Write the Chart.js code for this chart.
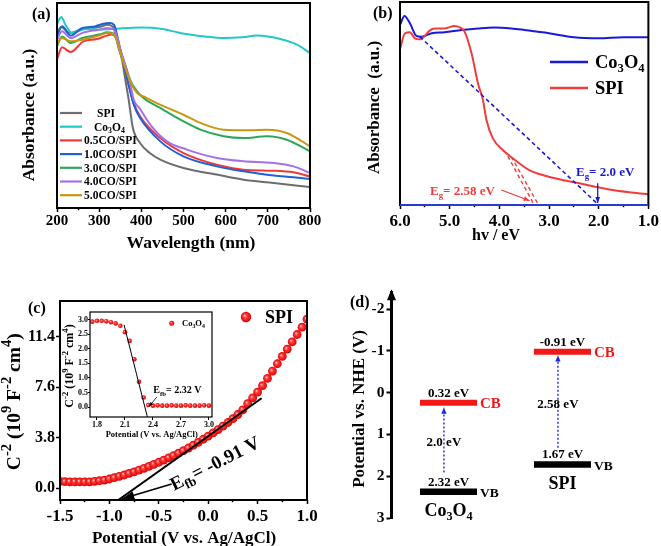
<!DOCTYPE html>
<html><head><meta charset="utf-8">
<script src="https://cdn.jsdelivr.net/npm/chart.js@4.4.1/dist/chart.umd.min.js"></script>
<style>
html,body{margin:0;padding:0;background:#fff;}
body{width:661px;height:546px;overflow:hidden;position:relative;}
canvas{position:absolute;}
</style></head><body>
<canvas id="ca" width="330" height="270" style="left:0;top:0"></canvas>
<canvas id="cb" width="331" height="270" style="left:330px;top:0"></canvas>
<canvas id="cc" width="330" height="266" style="left:0;top:280px"></canvas>
<canvas id="ci" width="180" height="145" style="left:40px;top:300px"></canvas>
<canvas id="cd" width="331" height="266" style="left:330px;top:280px"></canvas>
<script>
// ---------------- DATA ----------------
// (a) UV-vis absorbance (a.u., 0-100) vs wavelength (nm)
const seriesNames = ['SPI', 'Co3O4', '0.5CO/SPI', '1.0CO/SPI', '3.0CO/SPI', '4.0CO/SPI', '5.0CO/SPI'];
const wlSPI = [200,210,230,260,300,320,333,345,354,362,370,380,397,420,445,500,579,642,714,800];
const absSPI = [85.4,88.3,85.4,87.3,88.3,89.4,88.3,78.9,72.4,62.6,52.8,39.0,31.7,26.8,23.6,19.5,16.3,13.8,12.2,10.2];
const wlCo = [200,205,210,220,235,250,270,300,330,350,400,450,492,550,595,640,674,700,730,769,800];
const absCo = [89.4,91.9,93.2,89.4,85.4,86.2,87.3,87.0,87.3,87.6,88.0,87.3,85.4,83.7,82.9,83.3,84.1,83.7,82.4,79.7,75.6];
const wl05 = [200,212,232,263,295,318,330,340,350,365,382,397,445,500,579,642,714,761,800];
const abs05 = [72.4,78.4,76.1,81.3,82.4,84.1,84.6,82.9,77.2,64.2,51.2,44.7,34.1,26.8,21.1,18.7,18.2,17.4,15.4];
const wl10 = [200,212,232,260,290,310,325,335,350,365,382,397,445,500,579,642,714,761,800];
const abs10 = [83.7,88.6,84.1,87.8,88.6,89.9,90.2,89.4,77.2,64.2,50.4,43.9,32.5,25.2,20.3,17.9,15.8,15.0,14.1];
const wl30 = [200,212,232,260,300,320,335,355,375,390,405,445,500,540,595,642,698,745,800];
const abs30 = [78.9,83.7,80.5,82.9,84.6,85.7,85.0,74.0,61.8,56.9,53.7,48.8,42.3,38.2,35.0,34.1,35.0,33.3,27.6];
const wl40 = [200,212,232,260,300,320,335,355,370,382,397,421,461,508,579,642,714,761,800];
const abs40 = [82.1,86.2,82.9,85.4,87.0,87.8,87.0,74.0,64.2,52.8,48.3,40.7,32.5,28.5,24.4,22.8,22.0,20.3,17.1];
const wl50 = [200,212,232,260,300,320,335,355,375,390,410,450,500,540,595,658,698,745,800];
const abs50 = [80.5,82.9,81.3,82.1,84.1,85.4,84.6,72.4,61.0,56.1,54.0,49.9,45.5,41.5,38.2,37.9,38.2,36.6,30.1];

// (b) absorbance vs photon energy (eV)
const evCo = [6.0,5.91,5.8,5.67,5.57,5.36,5.1,4.76,4.43,4.1,3.76,3.49,3.0,2.5,2.0,1.5,1.0];
const absCoB = [88.7,93.1,89.5,83.3,82.9,84.6,85.1,86.2,87.0,87.5,87.0,86.2,84.6,82.6,82.1,82.6,82.6];
const evSPI = [6.0,5.9,5.8,5.7,5.6,5.5,5.43,5.3,5.1,4.9,4.76,4.7,4.56,4.43,4.33,4.26,4.13,3.93,3.73,3.4,3.06,2.39,1.72,1.0];
const absSPIB = [76.7,84.6,85.1,82.1,81.6,83.3,85.4,87.0,87.0,88.2,87.0,85.4,74.7,59.9,51.7,41.9,32.8,27.1,23.0,17.2,14.3,10.7,7.4,5.3];
const fitCoEv = [5.6, 2.0], fitCoAbs = [82.9, 0];
const fitSPIEv1 = [3.83, 3.31], fitSPIAbs1 = [24.1, 0.5];
const fitSPIEv2 = [3.76, 3.21], fitSPIAbs2 = [23.8, 0];
const egCoArrowEv = [2.02, 2.02], egCoArrowAbs = [10.7, 1.0];
const egSPIArrowEv = [3.96, 3.39], egSPIArrowAbs = [7.4, 2.1];

// (c) Mott-Schottky SPI
const potSPI = [-1.5,-1.45,-1.4,-1.35,-1.3,-1.25,-1.2,-1.15,-1.1,-1.05,-1.0,-0.95,-0.9,-0.85,-0.8,-0.75,-0.7,-0.65,-0.6,-0.55,-0.5,-0.45,-0.4,-0.35,-0.3,-0.25,-0.2,-0.15,-0.1,-0.05,0.0,0.05,0.1,0.15,0.2,0.25,0.3,0.35,0.4,0.45,0.5,0.55,0.6,0.65,0.7,0.75,0.8,0.85,0.9,0.95,1.0];
const c2SPI = [0.5,0.48,0.47,0.46,0.46,0.46,0.47,0.5,0.55,0.6,0.68,0.78,0.88,0.98,1.1,1.22,1.35,1.48,1.63,1.78,1.94,2.1,2.27,2.44,2.62,2.81,3.01,3.22,3.44,3.67,3.9,4.15,4.4,4.66,4.93,5.22,5.53,5.88,6.35,6.78,7.22,7.7,8.25,8.8,9.35,9.9,10.45,11.0,11.55,12.1,12.7];
const c2TickValues = [0.0, 3.8, 7.6, 11.4];
const fitSPIpot = [-0.91, 0.54], fitSPIc2 = [-0.9, 6.75];
const efbArrowPot = [-0.37, -0.87], efbArrowC2 = [0.3, -0.8];

// (c) inset Mott-Schottky Co3O4
const potCo = [1.75,1.8,1.85,1.9,1.95,2.0,2.05,2.1,2.15,2.2,2.25,2.3,2.35,2.4,2.45,2.5,2.55,2.6,2.65,2.7,2.75,2.8,2.85,2.9,2.95,3.0];
const c2Co = [2.93,2.96,2.96,2.94,2.91,2.87,2.79,2.57,2.27,1.64,0.87,0.33,0.07,0.05,0.06,0.05,0.05,0.06,0.05,0.05,0.06,0.05,0.05,0.05,0.06,0.05];
const insetPotTicks = [1.8, 2.1, 2.4, 2.7, 3.0];
const insetC2Ticks = [0.0, 0.5, 1.0, 1.5, 2.0, 2.5, 3.0];
const fitCoPot = [2.09, 2.34], fitCoC2 = [2.82, -0.34];
const efbCoArrowPot = [2.44, 2.36], efbCoArrowC2 = [0.34, 0.03];

// (d) band positions (V vs NHE)
const materials = ['Co3O4', 'SPI'];
const cbLevel = [0.24, -0.98];
const vbLevel = [2.37, 1.72];
const cbLabel = ['0.32 eV', '-0.91 eV'];
const vbLabel = ['2.32 eV', '1.67 eV'];
const gapLabel = ['2.0 eV', '2.58 eV'];
const gapFrom = [1.91, 1.32];
const gapTo = [0.36, -0.89];
const nheTicks = [-2, -1, 0, 1, 2, 3];

// ---------------- HELPERS ----------------
const FONT = "'Liberation Serif','Times New Roman',Times,serif";
Chart.defaults.font.family = FONT;
Chart.defaults.font.weight = 'bold';
Chart.defaults.color = '#000';
Chart.defaults.animation = false;
Chart.defaults.events = [];
Chart.defaults.plugins.legend.display = false;
Chart.defaults.plugins.tooltip.enabled = false;

const xy = (xs, ys) => xs.map((x, i) => ({x: x, y: ys[i]}));
const near = (v, m) => Math.abs(v / m - Math.round(v / m)) < 1e-6;
const chem = s => s === 'Co3O4' ? ['Co', ['3', 1], 'O', ['4', 1]] : [s];

function rich(ctx, parts, x, y, o) {
  const size = o.size, scr = o.scr || 0.68;
  ctx.save();
  ctx.translate(x, y);
  if (o.rot) ctx.rotate(o.rot);
  ctx.fillStyle = o.color || '#000';
  ctx.textBaseline = 'alphabetic';
  ctx.textAlign = 'left';
  const segs = parts.map(p => Array.isArray(p) ? {t: p[0], m: p[1]} : {t: p, m: 0});
  let w = 0;
  segs.forEach(s => { s.sz = s.m ? size * scr : size; ctx.font = 'bold ' + s.sz + 'px ' + FONT; s.w = ctx.measureText(s.t).width; w += s.w; });
  let cx = o.align === 'center' ? -w / 2 : (o.align === 'right' ? -w : 0);
  const base = o.baseline ? 0 : size * 0.34;
  segs.forEach(s => {
    ctx.font = 'bold ' + s.sz + 'px ' + FONT;
    const dy = s.m === 1 ? size * 0.22 : (s.m === 2 ? -size * 0.42 : 0);
    ctx.fillText(s.t, cx, base + dy);
    cx += s.w;
  });
  ctx.restore();
}
function hline(ctx, x1, y1, x2, y2, color, w) {
  ctx.save(); ctx.strokeStyle = color; ctx.lineWidth = w; ctx.beginPath(); ctx.moveTo(x1, y1); ctx.lineTo(x2, y2); ctx.stroke(); ctx.restore();
}
function ballGrad(ctx, px, py, r) {
  const g = ctx.createRadialGradient(px - r * 0.3, py - r * 0.3, 0, px, py, r);
  g.addColorStop(0, '#ffd8d8'); g.addColorStop(0.35, '#ff4040'); g.addColorStop(1, '#dd0000');
  return g;
}
function ballFill(r) {
  return c => {
    try {
      const ch = c.chart, p = c.raw;
      const px = ch.scales.x.getPixelForValue(p.x), py = ch.scales.y.getPixelForValue(p.y);
      return ballGrad(ch.ctx, px, py, r);
    } catch (e) { return '#ee1111'; }
  };
}
function drawBall(ctx, x, y, r) {
  ctx.save(); ctx.fillStyle = ballGrad(ctx, x, y, r); ctx.beginPath(); ctx.arc(x, y, r, 0, Math.PI * 2); ctx.fill(); ctx.restore();
}
function seg(xs, ys, color, width, extra) {
  return Object.assign({data: xy(xs, ys), borderColor: color, borderWidth: width, pointRadius: 0, tension: 0, fill: false}, extra || {});
}
const arrowPlugin = { id: 'arrowheads', afterDatasetsDraw(chart) {
  const ctx = chart.ctx;
  chart.data.datasets.forEach((ds, i) => {
    if (!ds.arrowSize) return;
    const pts = chart.getDatasetMeta(i).data;
    if (pts.length < 2) return;
    const a = pts[pts.length - 2], b = pts[pts.length - 1];
    const ang = Math.atan2(b.y - a.y, b.x - a.x);
    const L = ds.arrowSize, W = L * (ds.arrowWidth || 0.4);
    const bx = b.x - L * Math.cos(ang), by = b.y - L * Math.sin(ang);
    ctx.save(); ctx.fillStyle = ds.borderColor; ctx.beginPath();
    ctx.moveTo(b.x, b.y);
    ctx.lineTo(bx + W * Math.sin(ang), by - W * Math.cos(ang));
    ctx.lineTo(bx - W * Math.sin(ang), by + W * Math.cos(ang));
    ctx.closePath(); ctx.fill(); ctx.restore();
  });
}};
function framePlugin(lw, bottomColor) {
  return { id: 'frame', afterDatasetsDraw(chart) {
    const ctx = chart.ctx, a = chart.chartArea;
    ctx.save(); ctx.lineWidth = lw; ctx.strokeStyle = '#000';
    ctx.strokeRect(a.left, a.top, a.right - a.left, a.bottom - a.top);
    if (bottomColor) { ctx.strokeStyle = bottomColor; ctx.beginPath(); ctx.moveTo(a.left, a.bottom); ctx.lineTo(a.right, a.bottom); ctx.stroke(); }
    ctx.restore();
  }};
}
const textPlugin = fn => ({ id: 'texts', afterDraw(chart) { fn(chart.ctx, chart); } });
const minorDash = m => c => (c.tick && !near(c.tick.value, m)) ? [2.2, 30] : [];
const ROT = -Math.PI / 2;

// ---------------- (a) ----------------
const colorsA = ['#6d6d6d', '#22c8c8', '#f03a3a', '#1f60d6', '#2da65a', '#a472e6', '#c9960c'];
const xsA = [wlSPI, wlCo, wl05, wl10, wl30, wl40, wl50];
const ysA = [absSPI, absCo, abs05, abs10, abs30, abs40, abs50];
const legXA = [97, 94, 84, 84, 84, 84, 84];
new Chart(document.getElementById('ca'), {
  type: 'line',
  data: { datasets: seriesNames.map((n, i) => ({ label: n, data: xy(xsA[i], ysA[i]), borderColor: colorsA[i], borderWidth: 2, pointRadius: 0, cubicInterpolationMode: 'monotone', fill: false, order: seriesNames.length - i })) },
  options: {
    responsive: false,
    layout: { padding: { top: 3, right: 20, left: 0, bottom: 0 } },
    scales: {
      x: { type: 'linear', min: 200, max: 800, afterFit: s => { s.height = 62; },
        ticks: { stepSize: 50, autoSkip: false, maxRotation: 0, padding: 0, color: '#000', font: { size: 15, weight: 'bold' }, callback: v => near(v, 100) ? String(v) : '' },
        grid: { drawOnChartArea: false, tickLength: 4, tickWidth: 1.5, tickColor: '#000', tickBorderDash: minorDash(100) },
        border: { display: false } },
      y: { min: 0, max: 100, afterFit: s => { s.width = 57; }, ticks: { display: false }, grid: { display: false }, border: { display: false } }
    }
  },
  plugins: [framePlugin(2), textPlugin((ctx) => {
    rich(ctx, ['Wavelength (nm)'], 191, 242.5, { size: 17.5, align: 'center' });
    rich(ctx, ['Absorbance (a.u.)'], 28, 115, { size: 17.5, align: 'center', rot: ROT });
    rich(ctx, ['(a)'], 32, 14, { size: 16 });
    seriesNames.forEach((n, i) => {
      const y = 113 + i * 13.7;
      hline(ctx, 60, y, 82, y, colorsA[i], 2.2);
      rich(ctx, chem(n), legXA[i], y, { size: 11.5 });
    });
  })]
});

// ---------------- (b) ----------------
const blueB = '#1a1ad6', redB = '#f03c3c';
new Chart(document.getElementById('cb'), {
  type: 'line',
  data: { datasets: [
    seg(egCoArrowEv, egCoArrowAbs, blueB, 1.3, { arrowSize: 6, arrowWidth: 0.4 }),
    seg(egSPIArrowEv, egSPIArrowAbs, redB, 1.2, { arrowSize: 6, arrowWidth: 0.4 }),
    seg(fitCoEv, fitCoAbs, blueB, 1.6, { borderDash: [4, 3] }),
    seg(fitSPIEv1, fitSPIAbs1, redB, 1.4, { borderDash: [4, 3] }),
    seg(fitSPIEv2, fitSPIAbs2, redB, 1.4, { borderDash: [4, 3] }),
    { label: 'SPI', data: xy(evSPI, absSPIB), borderColor: redB, borderWidth: 2, pointRadius: 0, cubicInterpolationMode: 'monotone', fill: false },
    { label: 'Co3O4', data: xy(evCo, absCoB), borderColor: blueB, borderWidth: 2, pointRadius: 0, cubicInterpolationMode: 'monotone', fill: false }
  ] },
  options: {
    responsive: false,
    layout: { padding: { top: 2, right: 12, left: 0, bottom: 0 } },
    scales: {
      x: { type: 'linear', reverse: true, min: 1, max: 6, afterFit: s => { s.height = 65; },
        ticks: { stepSize: 0.5, autoSkip: false, maxRotation: 0, padding: 2, color: '#000', font: { size: 17, weight: 'bold' }, callback: v => near(v, 1) ? v.toFixed(1) : '' },
        grid: { drawOnChartArea: false, tickLength: 4, tickWidth: 1.5, tickColor: '#000', tickBorderDash: minorDash(1) },
        border: { display: false } },
      y: { min: 0, max: 100, afterFit: s => { s.width = 70; }, ticks: { display: false }, grid: { display: false }, border: { display: false } }
    }
  },
  plugins: [arrowPlugin, framePlugin(2, '#2a3ad0'), textPlugin((ctx) => {
    rich(ctx, ['hv / eV'], 166, 235, { size: 16, align: 'center' });
    rich(ctx, ['Absorbance  (a.u.)'], 43, 107.5, { size: 17, align: 'center', rot: ROT });
    rich(ctx, ['(b)'], 43, 13, { size: 16 });
    hline(ctx, 220, 62, 258, 62, blueB, 2.5);
    hline(ctx, 220, 88, 258, 88, redB, 2.5);
    rich(ctx, chem('Co3O4'), 265, 62, { size: 18.5 });
    rich(ctx, ['SPI'], 265, 88, { size: 18.5 });
    rich(ctx, ['E', ['g', 1], '= 2.0 eV'], 246, 172, { size: 13, color: blueB });
    rich(ctx, ['E', ['g', 1], '= 2.58 eV'], 100, 191, { size: 13, color: redB });
  })]
});

// ---------------- (c) ----------------
new Chart(document.getElementById('cc'), {
  type: 'line',
  data: { datasets: [
    seg(efbArrowPot, efbArrowC2, '#000', 1.5, { arrowSize: 12, arrowWidth: 0.35, order: 0 }),
    seg(fitSPIpot, fitSPIc2, '#000', 2, { order: 0 }),
    { label: 'SPI', data: xy(potSPI, c2SPI), showLine: false, pointRadius: 4.4, pointBorderWidth: 0, pointBorderColor: 'rgba(0,0,0,0)', pointBackgroundColor: ballFill(4.4), order: 2 }
  ] },
  options: {
    responsive: false,
    layout: { padding: { top: 21, right: 23, left: 0, bottom: 0 } },
    scales: {
      x: { type: 'linear', min: -1.5, max: 1.0, afterFit: s => { s.height = 46; },
        ticks: { stepSize: 0.25, autoSkip: false, maxRotation: 0, padding: 2.3, color: '#000', font: { size: 17, weight: 'bold' }, callback: v => near(v, 0.5) ? v.toFixed(1) : '' },
        grid: { drawOnChartArea: false, tickLength: 4, tickWidth: 1.5, tickColor: '#000', tickBorderDash: minorDash(0.5) },
        border: { display: false } },
      y: { min: -0.9, max: 14.07, afterFit: s => { s.width = 60; },
        afterBuildTicks: s => { s.ticks = c2TickValues.map(v => ({ value: v })); },
        ticks: { padding: 1, color: '#000', font: { size: 16, weight: 'bold' }, callback: v => v.toFixed(1) },
        grid: { drawOnChartArea: false, tickLength: 4, tickWidth: 1.5, tickColor: '#000' },
        border: { display: false } }
    }
  },
  plugins: [arrowPlugin, framePlugin(2), textPlugin((ctx) => {
    rich(ctx, ['Potential (V vs. Ag/AgCl)'], 184, 257, { size: 17, align: 'center' });
    rich(ctx, ['C', ['-2', 2], ' (10', ['9', 2], ' F', ['-2', 2], ' cm', ['4', 2], ')'], 13, 121.7, { size: 19.5, align: 'center', rot: ROT, scr: 0.75 });
    rich(ctx, ['(c)'], 28, 28, { size: 16 });
    drawBall(ctx, 246, 37, 5.2);
    rich(ctx, ['SPI'], 265, 37, { size: 18 });
    rich(ctx, ['E', ['fb', 1], '= -0.91 V'], 174, 211, { size: 19, rot: -27 * Math.PI / 180, baseline: true });
  })]
});

// ---------------- (c) inset ----------------
new Chart(document.getElementById('ci'), {
  type: 'line',
  data: { datasets: [
    seg(efbCoArrowPot, efbCoArrowC2, '#000', 0.8, { arrowSize: 4, arrowWidth: 0.4, order: 0 }),
    seg(fitCoPot, fitCoC2, '#000', 1, { order: 0 }),
    { label: 'Co3O4', data: xy(potCo, c2Co), showLine: false, pointRadius: 2.3, pointBorderWidth: 0, pointBorderColor: 'rgba(0,0,0,0)', pointBackgroundColor: ballFill(2.3), order: 2 }
  ] },
  options: {
    responsive: false,
    layout: { padding: { top: 12, right: 8, left: 0, bottom: 0 } },
    scales: {
      x: { type: 'linear', min: 1.725, max: 3.0326, afterFit: s => { s.height = 28; },
        afterBuildTicks: s => { s.ticks = insetPotTicks.map(v => ({ value: v })); },
        ticks: { autoSkip: false, maxRotation: 0, padding: 0, color: '#000', font: { size: 8, weight: 'bold' }, callback: v => v.toFixed(1) },
        grid: { drawOnChartArea: false, tickLength: 3, tickWidth: 1, tickColor: '#000' },
        border: { display: false } },
      y: { min: -0.34, max: 3.26, afterFit: s => { s.width = 50; },
        afterBuildTicks: s => { s.ticks = insetC2Ticks.map(v => ({ value: v })); },
        ticks: { padding: 0, color: '#000', font: { size: 8, weight: 'bold' }, callback: v => v.toFixed(1) },
        grid: { drawOnChartArea: false, tickLength: 2, tickWidth: 1, tickColor: '#000' },
        border: { display: false } }
    }
  },
  plugins: [arrowPlugin, framePlugin(1.2), textPlugin((ctx) => {
    rich(ctx, ['Potential (V vs. Ag/AgCl)'], 111.7, 134, { size: 8.5, align: 'center' });
    rich(ctx, ['C', ['-2', 2], ' (10', ['9', 2], ' F', ['-2', 2], ' cm', ['4', 2], ')'], 29, 66, { size: 12, align: 'center', rot: ROT, scr: 0.72 });
    drawBall(ctx, 131.7, 23.3, 2.5);
    rich(ctx, chem('Co3O4'), 142, 23.3, { size: 8.5 });
    rich(ctx, ['E', ['fb', 1], '= 2.32 V'], 113.3, 90, { size: 10 });
  })]
});

// ---------------- (d) ----------------
const dsD = [];
materials.forEach((m, i) => {
  const c = 2 * i + 1;
  dsD.push(seg([c - 0.5, c + 0.5], [cbLevel[i], cbLevel[i]], '#f21818', 6, { borderCapStyle: 'butt' }));
  dsD.push(seg([c - 0.5, c + 0.5], [vbLevel[i], vbLevel[i]], '#000', 6.5, { borderCapStyle: 'butt' }));
  dsD.push(seg([c - 0.08, c - 0.08], [gapFrom[i], gapTo[i]], '#1a28e0', 1.4, { borderDash: [2, 2], arrowSize: 6, arrowWidth: 0.45 }));
});
new Chart(document.getElementById('cd'), {
  type: 'line',
  data: { datasets: dsD },
  options: {
    responsive: false,
    layout: { padding: { top: 12.3, right: 7.3, left: 0, bottom: 28 } },
    scales: {
      x: { type: 'linear', display: false, min: 0, max: 4.6 },
      y: { reverse: true, min: -2.4, max: 3, afterFit: s => { s.width = 61.5; },
        afterBuildTicks: s => { s.ticks = nheTicks.map(v => ({ value: v })); },
        ticks: { padding: 2, color: '#000', font: { size: 15.5, weight: 'bold' }, callback: v => String(v) },
        grid: { drawOnChartArea: false, tickLength: 5, tickWidth: 2, tickColor: '#000' },
        border: { display: true, width: 3, color: '#000' } }
    }
  },
  plugins: [arrowPlugin, textPlugin((ctx, chart) => {
    const xs = chart.scales.x, ys = chart.scales.y, a = chart.chartArea;
    rich(ctx, ['Potential vs. NHE (V)'], 28, 129, { size: 17, align: 'center', rot: ROT });
    rich(ctx, ['(d)'], 20, 22, { size: 16 });
    ctx.save(); ctx.fillStyle = '#000'; ctx.beginPath();
    ctx.moveTo(a.left, a.top - 3); ctx.lineTo(a.left - 4.5, a.top + 8); ctx.lineTo(a.left + 4.5, a.top + 8); ctx.closePath(); ctx.fill(); ctx.restore();
    materials.forEach((m, i) => {
      const c = 2 * i + 1;
      const cx = xs.getPixelForValue(c), right = xs.getPixelForValue(c + 0.5);
      const yc = ys.getPixelForValue(cbLevel[i]), yv = ys.getPixelForValue(vbLevel[i]);
      rich(ctx, [cbLabel[i]], cx, yc - 10.5, { size: 13, align: 'center' });
      rich(ctx, ['CB'], right + 3, yc + 0.5, { size: 15, color: '#f21818' });
      rich(ctx, [vbLabel[i]], cx, yv - 10.5, { size: 13, align: 'center' });
      rich(ctx, ['VB'], right + 3, yv + 0.5, { size: 13.5 });
      const ax = xs.getPixelForValue(c - 0.08);
      const y1 = ys.getPixelForValue(gapFrom[i]), y2 = ys.getPixelForValue(gapTo[i]);
      rich(ctx, [gapLabel[i]], ax, y2 + (y1 - y2) * 0.52, { size: 13, align: 'center' });
      rich(ctx, chem(m), cx, yv + 18, { size: 18, align: 'center' });
    });
  })]
});
</script>
</body></html>
